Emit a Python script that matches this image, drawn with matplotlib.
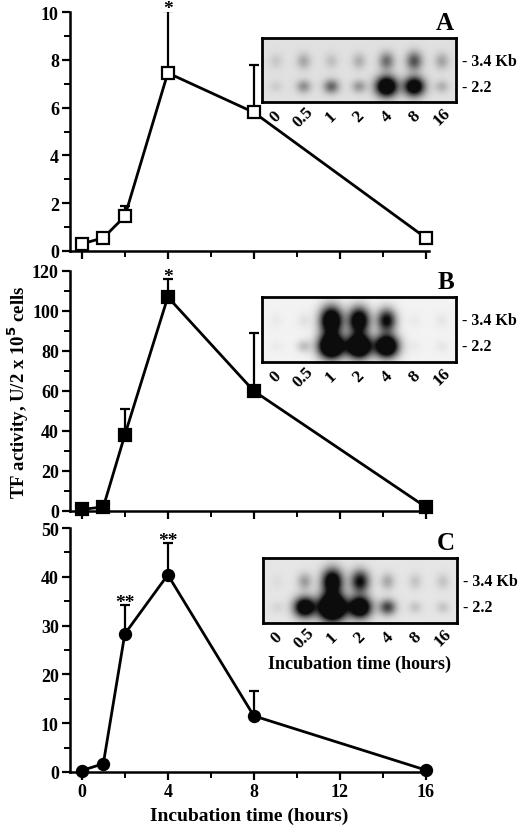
import numpy as np
import matplotlib.pyplot as plt
from matplotlib.ticker import MultipleLocator

plt.rcParams['font.family'] = ['Liberation Serif', 'DejaVu Serif']
plt.rcParams['font.weight'] = 'bold'

# time course data (hours)
hours = [0, 1, 2, 4, 8, 16]

tf_a = [0.3, 0.55, 1.45, 7.45, 5.8, 0.55]
err_a = [0, 0, 0.45, 2.6, 2.0, 0]
tf_b = [0.8, 2.0, 38, 107, 60, 2.0]
err_b = [0, 0, 13, 9, 29, 0]
tf_c = [0.3, 1.7, 28.3, 40.4, 11.5, 0.4]
err_c = [0, 0, 6.0, 6.6, 5.2, 0]

# significance marks: (hour, text)
stars_a = [(4, '*')]
stars_b = [(4, '*')]
stars_c = [(2, '**'), (4, '**')]

# northern blot lanes and band darkness (3.4 Kb, 2.2 Kb)
lanes = ['0', '0.5', '1', '2', '4', '8', '16']
blot_a_34 = [0.06, 0.14, 0.08, 0.12, 0.28, 0.35, 0.15]
blot_a_22 = [0.05, 0.2, 0.3, 0.18, 0.85, 0.75, 0.12]
blot_b_34 = [0.02, 0.04, 0.9, 0.8, 0.6, 0.02, 0.03]
blot_b_22 = [0.02, 0.12, 1.15, 1.1, 1.0, 0.02, 0.03]
blot_c_34 = [0.02, 0.18, 0.75, 0.55, 0.15, 0.08, 0.08]
blot_c_22 = [0.04, 0.8, 1.3, 0.9, 0.4, 0.08, 0.08]
blot_bg = [0.12, 0.05, 0.1]

W, H = 520, 828
fig = plt.figure(figsize=(W / 100, H / 100), dpi=100)


def px_axes(x0, y0, x1, y1):
    return fig.add_axes([x0 / W, 1 - y1 / H, (x1 - x0) / W, (y1 - y0) / H])


def draw_panel(ax, y, err, marker, face, ymax, major, minor, stars, last):
    ax.errorbar(hours, y, yerr=[np.zeros(len(err)), err], fmt='none',
                ecolor='black', elinewidth=1.6, capsize=3.5, capthick=1.6,
                zorder=2)
    ax.plot(hours, y, color='black', lw=2.0, marker=marker, ms=8,
            mfc=face, mec='black', mew=1.6, zorder=3, clip_on=False)
    for h, s in stars:
        top = y[hours.index(h)] + err[hours.index(h)]
        ax.annotate(s, (h, top), xytext=(0, -1.5), textcoords='offset points',
                    ha='center', va='baseline', fontsize=14,
                    fontweight='bold', annotation_clip=False)
    ax.set_xlim(-0.55, 16.15)
    ax.set_ylim(0, ymax)
    ax.xaxis.set_major_locator(MultipleLocator(4))
    ax.xaxis.set_minor_locator(MultipleLocator(2))
    ax.yaxis.set_major_locator(MultipleLocator(major))
    ax.yaxis.set_minor_locator(MultipleLocator(minor))
    for side in ['top', 'right']:
        ax.spines[side].set_visible(False)
    for side in ['left', 'bottom']:
        ax.spines[side].set_linewidth(1.8)
    ax.tick_params(which='major', direction='out', length=6, width=1.6,
                   labelsize=13, pad=2)
    ax.tick_params(which='minor', direction='out', length=4, width=1.4)
    if not last:
        ax.set_xticklabels([])
    ax.patch.set_alpha(0)


def draw_blot(ax, band34, band22, bg, letter):
    nx, ny = 280, 100
    xs = np.linspace(0, 7, nx)
    ys = np.linspace(0, 1, ny)
    X, Y = np.meshgrid(xs, ys)
    dark = np.full(X.shape, bg)
    for i in range(len(lanes)):
        for level, yc, stretch in [(band34[i], 0.36, 1.3), (band22[i], 0.76, 1.0)]:
            sx = 0.16 + 0.13 * level
            sy = (0.06 + 0.06 * level) * stretch
            r2 = ((X - i - 0.5) / sx) ** 2 + ((Y - yc) / sy) ** 2
            dark += np.minimum(1.0, 1.6 * level * np.exp(-r2 / 2))
    dark = np.clip(dark, 0, 0.95)
    ax.imshow(dark, cmap='gray_r', vmin=0, vmax=1, extent=[0, 7, 1, 0],
              aspect='auto', interpolation='bilinear')
    ax.set_xlim(0, 7)
    ax.set_ylim(1, 0)
    ax.set_xticks([])
    ax.set_yticks([])
    for s in ax.spines.values():
        s.set_linewidth(2.0)
    for i, lab in enumerate(lanes):
        ax.text(i + 0.5, 1.22, lab, rotation=45, ha='center', va='center',
                fontsize=12.5, fontweight='bold')
    ax.text(1.03, 1 - 0.36, '- 3.4 Kb', transform=ax.transAxes, ha='left',
            va='center', fontsize=11.5, fontweight='bold')
    ax.text(1.03, 1 - 0.76, '- 2.2', transform=ax.transAxes, ha='left',
            va='center', fontsize=11.5, fontweight='bold')
    ax.text(0.99, 1.06, letter, transform=ax.transAxes, ha='right',
            va='bottom', fontsize=18, fontweight='bold')


ax_a = px_axes(70, 13, 429, 252)
ax_b = px_axes(70, 272, 429, 512)
ax_c = px_axes(70, 529, 429, 773)

draw_panel(ax_a, tf_a, err_a, 's', 'white', 10, 2, 1, stars_a, False)
draw_panel(ax_b, tf_b, err_b, 's', 'black', 120, 20, 10, stars_b, False)
draw_panel(ax_c, tf_c, err_c, 'o', 'black', 50, 10, 5, stars_c, True)

ax_c.set_xlabel('Incubation time (hours)', fontsize=14, fontweight='bold',
                labelpad=5)

fig.text(0.036, 1 - 392 / H, 'TF activity, U/2 x 10$^{\\mathbf{5}}$ cells',
         rotation=90, ha='center', va='center', fontsize=13.5,
         fontweight='bold')

blot_a = px_axes(262, 39, 456, 103)
blot_b = px_axes(262, 298, 456, 363)
blot_c = px_axes(263, 559, 457, 624)
draw_blot(blot_a, blot_a_34, blot_a_22, blot_bg[0], 'A')
draw_blot(blot_b, blot_b_34, blot_b_22, blot_bg[1], 'B')
draw_blot(blot_c, blot_c_34, blot_c_22, blot_bg[2], 'C')

blot_c.text(0.5, -0.62, 'Incubation time (hours)', transform=blot_c.transAxes,
            ha='center', va='center', fontsize=13, fontweight='bold')

fig.savefig('out.png', dpi=100)
